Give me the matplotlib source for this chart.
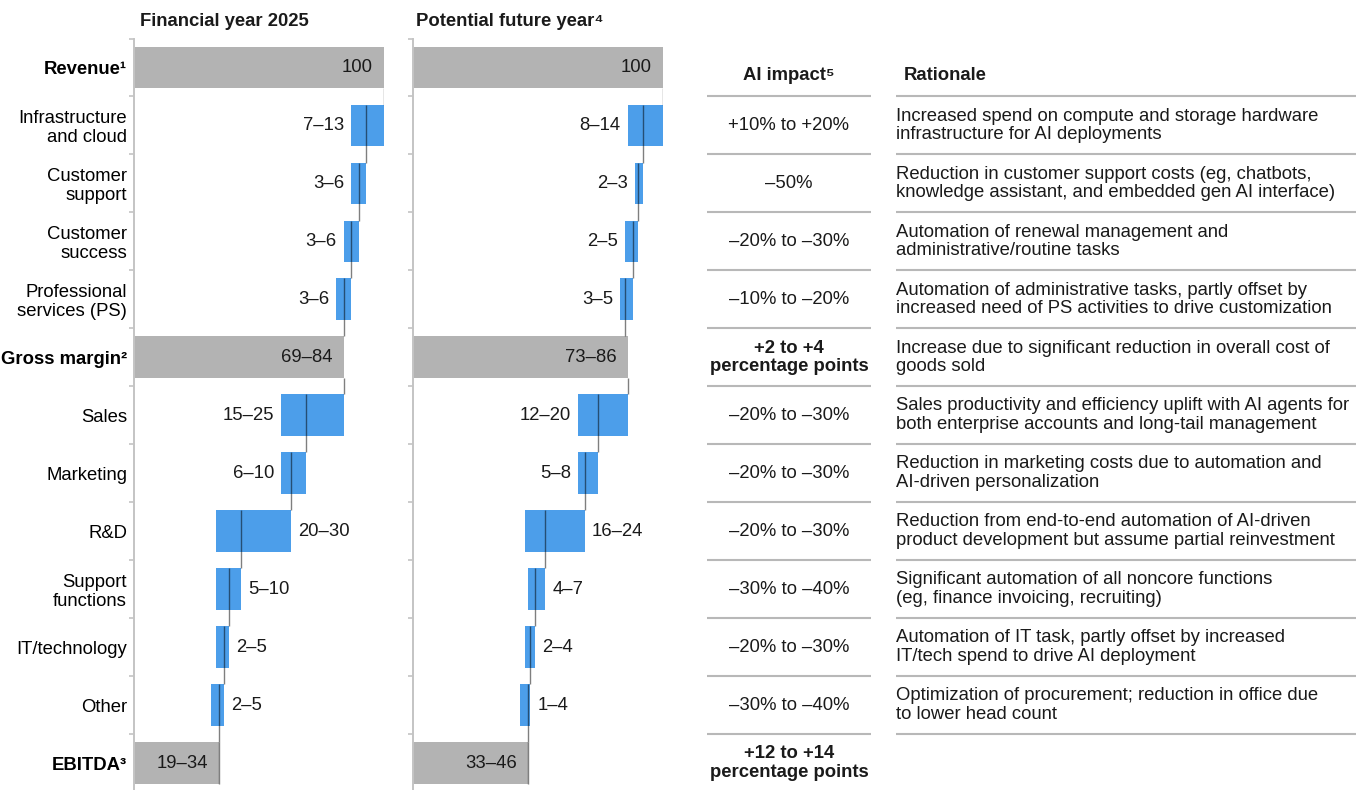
import matplotlib.pyplot as plt

plt.rcParams["font.family"] = ["Liberation Sans", "DejaVu Sans"]
plt.rcParams["font.size"] = 13.3
plt.rcParams["text.color"] = "#1a1a1a"

W, H = 1358, 790
ROW_PX = 57.96
FIRST_ROW_PX = 67.5

rows = ["Revenue¹", "Infrastructure\nand cloud", "Customer\nsupport", "Customer\nsuccess",
        "Professional\nservices (PS)", "Gross margin²", "Sales", "Marketing", "R&D",
        "Support\nfunctions", "IT/technology", "Other", "EBITDA³"]
total_rows = [0, 5, 12]
revenue = 100

# financial year 2025, % of revenue (low-high)
fy_cogs_low = [7, 3, 3, 3]
fy_cogs_high = [13, 6, 6, 6]
fy_opex_low = [15, 6, 20, 5, 2, 2]
fy_opex_high = [25, 10, 30, 10, 5, 5]
fy_gross = (69, 84)
fy_ebitda = (19, 34)

# potential future year
fut_cogs_low = [8, 2, 2, 3]
fut_cogs_high = [14, 3, 5, 5]
fut_opex_low = [12, 5, 16, 4, 2, 1]
fut_opex_high = [20, 8, 24, 7, 4, 4]
fut_gross = (73, 86)
fut_ebitda = (33, 46)

ai_impact = ["+10% to +20%", "–50%", "–20% to –30%", "–10% to –20%",
             "+2 to +4\npercentage points", "–20% to –30%", "–20% to –30%",
             "–20% to –30%", "–30% to –40%", "–20% to –30%", "–30% to –40%",
             "+12 to +14\npercentage points"]

rationale = [
    "Increased spend on compute and storage hardware\ninfrastructure for AI deployments",
    "Reduction in customer support costs (eg, chatbots,\nknowledge assistant, and embedded gen AI interface)",
    "Automation of renewal management and\nadministrative/routine tasks",
    "Automation of administrative tasks, partly offset by\nincreased need of PS activities to drive customization",
    "Increase due to significant reduction in overall cost of\ngoods sold",
    "Sales productivity and efficiency uplift with AI agents for\nboth enterprise accounts and long-tail management",
    "Reduction in marketing costs due to automation and\nAI-driven personalization",
    "Reduction from end-to-end automation of AI-driven\nproduct development but assume partial reinvestment",
    "Significant automation of all noncore functions\n(eg, finance invoicing, recruiting)",
    "Automation of IT task, partly offset by increased\nIT/tech spend to drive AI deployment",
    "Optimization of procurement; reduction in office due\nto lower head count",
]

BLUE = "#4c9eea"
GREY = "#b3b3b3"
AXIS = "#c4c4c4"
RULE = "#b8b8b8"
BAR_H = 0.72
LINE_KW = dict(color="black", alpha=0.5, lw=1.0)

top_px = FIRST_ROW_PX - ROW_PX / 2
y_bottom = (H - FIRST_ROW_PX) / ROW_PX
ax_h = (H - top_px) / H


def rng(lo, hi):
    return f"{lo}–{hi}"


def subtotal(ax, row, lo, hi):
    ax.barh(row, hi, height=BAR_H, color=GREY)
    label = str(hi) if lo == hi else rng(lo, hi)
    ax.annotate(label, (hi, row), xytext=(-8, 0), textcoords="offset points",
                ha="right", va="center")


def costs(ax, first_row, start, lows, highs, right_from):
    for i, (lo, hi) in enumerate(zip(lows, highs)):
        row = first_row + i
        ax.barh(row, hi, left=start - hi, height=BAR_H, color=BLUE)
        end = start - lo
        ax.vlines(end, row - BAR_H / 2, row + 1 - BAR_H / 2, **LINE_KW)
        if i >= right_from:
            ax.annotate(rng(lo, hi), (start, row), xytext=(5, 0),
                        textcoords="offset points", ha="left", va="center")
        else:
            ax.annotate(rng(lo, hi), (start - hi, row), xytext=(-5, 0),
                        textcoords="offset points", ha="right", va="center")
        start = end
    return start


def waterfall(ax, cogs_lo, cogs_hi, opex_lo, opex_hi, gross, ebitda):
    subtotal(ax, 0, revenue, revenue)
    ax.vlines(revenue, BAR_H / 2, 1 - BAR_H / 2, **LINE_KW)
    costs(ax, 1, revenue, cogs_lo, cogs_hi, right_from=99)

    subtotal(ax, 5, *gross)
    ax.vlines(gross[1], 5 + BAR_H / 2, 6 - BAR_H / 2, **LINE_KW)
    costs(ax, 6, gross[1], opex_lo, opex_hi, right_from=2)

    subtotal(ax, 12, *ebitda)
    ax.vlines(ebitda[1], 12 - BAR_H / 2, 12 + BAR_H / 2, **LINE_KW)

    ax.set_xlim(0, 100)
    ax.set_ylim(y_bottom, -0.5)
    ax.set_yticks([r - 0.5 for r in range(len(rows))])
    ax.tick_params(axis="y", which="major", length=3.5, width=1.2, color=AXIS,
                   labelleft=False)
    ax.xaxis.set_visible(False)
    for side in ["top", "right", "bottom"]:
        ax.spines[side].set_visible(False)
    ax.spines["left"].set_color(AXIS)
    ax.spines["left"].set_linewidth(1.4)


fig = plt.figure(figsize=(W / 100, H / 100), dpi=100)

ax1 = fig.add_axes([134 / W, 0, 249.5 / W, ax_h])
waterfall(ax1, fy_cogs_low, fy_cogs_high, fy_opex_low, fy_opex_high, fy_gross, fy_ebitda)
ax1.set_yticks(range(len(rows)), rows, minor=True)
ax1.tick_params(axis="y", which="minor", length=0, pad=5, labelleft=True)
for r in total_rows:
    lab = ax1.get_yticklabels(minor=True)[r]
    lab.set_fontweight("bold")
for lab in ax1.get_yticklabels(minor=True):
    lab.set_linespacing(1.12)

ax2 = fig.add_axes([413 / W, 0, 249.5 / W, ax_h])
waterfall(ax2, fut_cogs_low, fut_cogs_high, fut_opex_low, fut_opex_high, fut_gross, fut_ebitda)

fig.text(140 / W, 1 - 26 / H, "Financial year 2025", fontweight="bold", va="baseline")
fig.text(416 / W, 1 - 26 / H, "Potential future year⁴", fontweight="bold", va="baseline")

# AI impact and rationale table
ax3 = fig.add_axes([690 / W, 0, (W - 690) / W, ax_h])
ax3.set_xlim(690, W)
ax3.set_ylim(y_bottom, -0.5)
ax3.axis("off")

bounds = [r + 0.5 for r in range(len(rows) - 1)]
ax3.hlines(bounds, 707, 871, color=RULE, lw=1.5)
ax3.hlines(bounds, 896, 1356, color=RULE, lw=1.5)

ax3.text(789, 0.13, "AI impact⁵", fontweight="bold", ha="center", va="center")
ax3.text(904, 0.13, "Rationale", fontweight="bold", ha="left", va="center")

for i, txt in enumerate(ai_impact):
    row = i + 1
    bold = "percentage" in txt
    ax3.text(789, row, txt, ha="center", va="center", linespacing=1.12,
             fontweight="bold" if bold else "normal")

for i, txt in enumerate(rationale):
    ax3.text(896, i + 1, txt, ha="left", va="center", linespacing=1.12)

fig.savefig("out.png", dpi=100)
